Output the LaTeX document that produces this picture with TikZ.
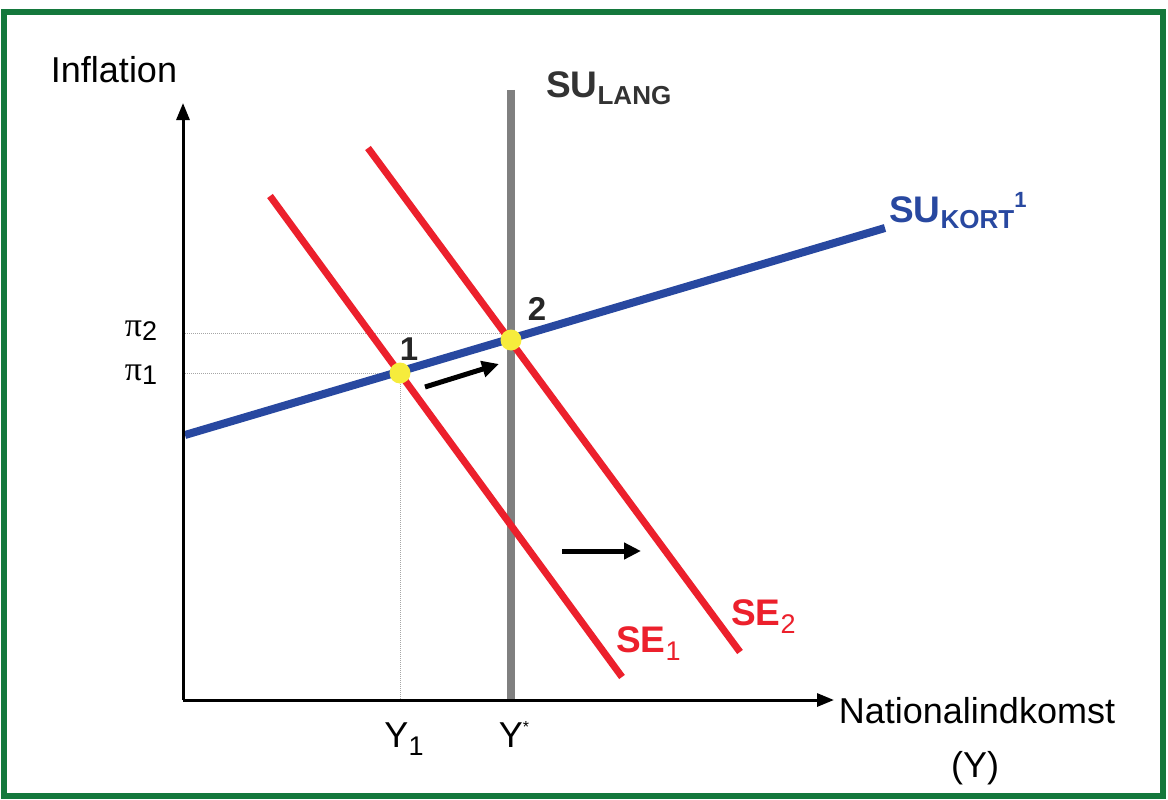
\documentclass[tikz,border=0pt]{standalone}
\usepackage{fontspec}
\setmainfont{Liberation Sans}
\newfontfamily\piface{Liberation Serif}
\usetikzlibrary{arrows.meta}
\definecolor{framegreen}{RGB}{20,120,60}
\definecolor{curvered}{RGB}{236,32,44}
\definecolor{curveblue}{RGB}{40,72,160}
\definecolor{curvegray}{RGB}{128,128,128}
\definecolor{dotyellow}{RGB}{246,236,60}
\begin{document}
\begin{tikzpicture}[x=1pt,y=-1pt,
  frame/.style={draw=framegreen,line width=6pt},
  axis/.style={line width=3pt,black},
  guide/.style={gray!70,line width=1pt,densely dotted},
  redcurve/.style={curvered,line width=7pt},
  bluecurve/.style={curveblue,line width=8pt},
  graycurve/.style={curvegray,line width=8pt},
  eqdot/.style={circle,fill=dotyellow,minimum size=21pt,inner sep=0pt},
  shiftarrow/.style={line width=5pt,-{Triangle[length=17pt,width=16pt]}},
  lbl/.style={font=\fontsize{36}{40}\selectfont,inner sep=0pt},
  numlbl/.style={font=\fontsize{33}{38}\selectfont\bfseries,inner sep=0pt,text=black!85},
  boldlbl/.style={font=\fontsize{37}{42}\selectfont\bfseries,inner sep=0pt},
]
\useasboundingbox (0,0) rectangle (1168,800);
\fill[white] (0,0) rectangle (1168,800);
\draw[frame] (4,12) rectangle (1163,796);

% coordinates
\coordinate (O) at (183,700);
\coordinate (ytop) at (183,103);
\coordinate (xend) at (834,700);
\coordinate (p1) at (400,373);
\coordinate (p2) at (511,340);
\coordinate (lt) at (511,90);
\coordinate (lb) at (511,700);
\coordinate (bl) at (185,435);
\coordinate (br) at (885,228);
\coordinate (s1a) at (270,196);
\coordinate (s1b) at (622,677);
\coordinate (s2a) at (368,148);
\coordinate (s2b) at (740,652);
\coordinate (pi1y) at (183,373);
\coordinate (pi2y) at (183,333);
\coordinate (y1x) at (400,700);
\coordinate (a1s) at (425,387);
\coordinate (a1e) at (499,364);
\coordinate (a2s) at (562,551);
\coordinate (a2e) at (641,551);

% guides
\draw[guide] (pi1y) -- (p1) -- (y1x);
\draw[guide] (pi2y) -- (p2 |- pi2y);

% curves
\draw[graycurve] (lt) -- (lb);
\draw[redcurve] (s1a) -- (s1b);
\draw[redcurve] (s2a) -- (s2b);
\draw[bluecurve] (bl) -- (br);

% axes
\draw[axis,-{Triangle[length=17pt,width=13pt]}] (O) -- (ytop);
\draw[axis,-{Triangle[length=17pt,width=13pt]}] (O) -- (xend);

% equilibrium dots
\node[eqdot] (e1) at (p1) {};
\node[eqdot] (e2) at (p2) {};

% shift arrows
\draw[shiftarrow] (a1s) -- (a1e);
\draw[shiftarrow] (a2s) -- (a2e);

% labels
\node[lbl,anchor=base] (infl) at (114,83) {Inflation};
\node[boldlbl,anchor=base west,text=black!80] (sulang) at (546,98) {SU\raisebox{-7pt}{\fontsize{26}{30}\selectfont LANG}};
\node[boldlbl,anchor=base west,text=curveblue] (sukort) at (889,222) {SU\raisebox{-6pt}{\fontsize{26}{30}\selectfont KORT}\raisebox{15pt}{\fontsize{22}{26}\selectfont 1}};
\node[boldlbl,anchor=base west,text=curvered] (se1) at (616,652) {SE\raisebox{-8pt}{\fontsize{27}{30}\selectfont\mdseries 1}};
\node[boldlbl,anchor=base west,text=curvered] (se2) at (731,625) {SE\raisebox{-8pt}{\fontsize{27}{30}\selectfont\mdseries 2}};
\node[numlbl,anchor=base] (n1) at (409,360) {1};
\node[numlbl,anchor=base] (n2) at (537,320) {2};
\node[anchor=base,inner sep=0pt,font=\fontsize{34}{38}\piface] (pi2) at (141,336) {π\raisebox{-4pt}{\fontsize{27}{30}\selectfont\rmfamily 2}};
\node[anchor=base,inner sep=0pt,font=\fontsize{34}{38}\piface] (pi1) at (141,380) {π\raisebox{-4pt}{\fontsize{27}{30}\selectfont\rmfamily 1}};
\node[lbl,anchor=base] (ylab1) at (404,747) {Y\raisebox{-8pt}{\fontsize{27}{30}\selectfont 1}};
\node[lbl,anchor=base] (ylabs) at (514,747) {Y\raisebox{15pt}{\fontsize{16}{20}\selectfont *}};
\node[lbl,anchor=base] (natl) at (977,723) {Nationalindkomst};
\node[lbl,anchor=base] (ylab) at (975,777) {(Y)};
\end{tikzpicture}
\end{document}
